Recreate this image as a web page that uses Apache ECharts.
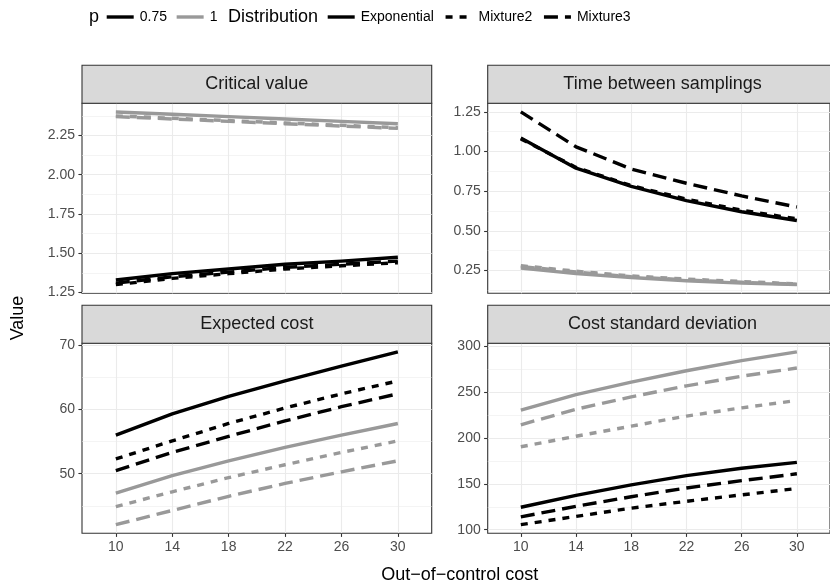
<!DOCTYPE html>
<html><head><meta charset="utf-8">
<script src="https://cdn.jsdelivr.net/npm/echarts@6/dist/echarts.min.js"></script>
<style>html,body{margin:0;padding:0;background:#fff}#chart{width:830px;height:588px}</style>
</head><body><div id="chart"></div>
<script>
// ---------------- data ----------------
const xCategories = [10, 14, 18, 22, 26, 30];
const pLevels = ['0.75', '1'];
const distributions = ['Exponential', 'Mixture2', 'Mixture3'];
const panelTitles = ['Critical value', 'Time between samplings', 'Expected cost', 'Cost standard deviation'];

const critP075Exp  = [1.33, 1.37, 1.40, 1.43, 1.45, 1.475];
const critP075Mix2 = [1.30, 1.34, 1.37, 1.40, 1.42, 1.44];
const critP075Mix3 = [1.31, 1.35, 1.38, 1.41, 1.43, 1.45];
const critP1Exp    = [2.40, 2.385, 2.37, 2.355, 2.34, 2.325];
const critP1Mix2   = [2.375, 2.36, 2.345, 2.33, 2.315, 2.30];
const critP1Mix3   = [2.37, 2.355, 2.34, 2.325, 2.31, 2.295];

const timeP075Exp  = [1.085, 0.895, 0.78, 0.69, 0.62, 0.565];
const timeP075Mix2 = [1.08, 0.90, 0.785, 0.70, 0.63, 0.575];
const timeP075Mix3 = [1.25, 1.03, 0.89, 0.80, 0.72, 0.65];
const timeP1Exp    = [0.265, 0.23, 0.205, 0.185, 0.17, 0.16];
const timeP1Mix2   = [0.28, 0.245, 0.215, 0.195, 0.18, 0.165];
const timeP1Mix3   = [0.275, 0.24, 0.21, 0.19, 0.175, 0.163];

const costP075Exp  = [56.0, 59.3, 62.0, 64.4, 66.7, 68.9];
const costP075Mix2 = [52.3, 55.1, 57.8, 60.2, 62.4, 64.4];
const costP075Mix3 = [50.5, 53.3, 55.8, 58.2, 60.4, 62.4];
const costP1Exp    = [47.0, 49.7, 52.0, 54.1, 56.0, 57.8];
const costP1Mix2   = [44.9, 47.2, 49.4, 51.4, 53.3, 55.1];
const costP1Mix3   = [42.1, 44.3, 46.5, 48.5, 50.3, 52.0];

const sdP075Exp  = [124.5, 137.5, 149, 159, 167, 173.5];
const sdP075Mix2 = [105.5, 114.5, 123.5, 131, 138, 145];
const sdP075Mix3 = [114, 125.5, 136, 145.5, 153.5, 161];
const sdP1Exp    = [230.5, 247.5, 261, 273.5, 284.5, 294];
const sdP1Mix2   = [190.5, 202, 213, 224, 233, 241];
const sdP1Mix3   = [214.5, 231.5, 245, 257, 267.5, 276.5];

const yTicksCritical = [1.25, 1.5, 1.75, 2, 2.25];
const yTicksTime = [0.25, 0.5, 0.75, 1, 1.25];
const yTicksCost = [50, 60, 70];
const yTicksSd = [100, 150, 200, 250, 300];

// ---------------- setup ----------------
const FONT = '"Liberation Sans", Arial, sans-serif';
const panels = [
  { ticks: yTicksCritical, dec: 2, data: { '0.75': [critP075Exp, critP075Mix2, critP075Mix3], '1': [critP1Exp, critP1Mix2, critP1Mix3] } },
  { ticks: yTicksTime, dec: 2, data: { '0.75': [timeP075Exp, timeP075Mix2, timeP075Mix3], '1': [timeP1Exp, timeP1Mix2, timeP1Mix3] } },
  { ticks: yTicksCost, dec: 0, data: { '0.75': [costP075Exp, costP075Mix2, costP075Mix3], '1': [costP1Exp, costP1Mix2, costP1Mix3] } },
  { ticks: yTicksSd, dec: 0, data: { '0.75': [sdP075Exp, sdP075Mix2, sdP075Mix3], '1': [sdP1Exp, sdP1Mix2, sdP1Mix3] } }
];
const PW = 349.7, PH = 190, STRIP = 38;
const pos = [{ left: 82, top: 103.3 }, { left: 487.7, top: 103.3 }, { left: 82, top: 343.3 }, { left: 487.7, top: 343.3 }];
const lineColor = { '0.75': '#000000', '1': '#999999' };
const lineDash = { Exponential: 'solid', Mixture2: [7, 7], Mixture3: [14, 7] };
const LW = 3.4;
const GRID_C = '#EBEBEB';

// discrete x: expand 0.6 of a step each side
const step = xCategories[1] - xCategories[0];
const xMin = xCategories[0] - 0.6 * step, xMax = xCategories[xCategories.length - 1] + 0.6 * step;

const grids = [], xAxes = [], yAxes = [], series = [], graphics = [];
panels.forEach((pn, i) => {
  const all = [];
  pLevels.forEach(p => pn.data[p].forEach(a => all.push(...a)));
  const lo = Math.min(...all), hi = Math.max(...all), r = hi - lo;
  const yMin = lo - 0.05 * r, yMax = hi + 0.05 * r;
  const t = pn.ticks, d = t[1] - t[0];
  const ext = [t[0] - d].concat(t, [t[t.length - 1] + d]);
  const minors = [];
  for (let k = 0; k < ext.length - 1; k++) { const m = (ext[k] + ext[k + 1]) / 2; if (m >= yMin && m <= yMax) minors.push(m); }
  const bottom = i >= 2;
  grids.push({ left: pos[i].left, top: pos[i].top, width: PW, height: PH, show: true, borderColor: '#333333', borderWidth: 1.1, backgroundColor: '#ffffff', containLabel: false });
  xAxes.push({
    type: 'value', gridIndex: i, min: xMin, max: xMax,
    axisLine: { show: false },
    axisTick: { show: bottom, customValues: xCategories, length: 3.6, lineStyle: { color: '#333333', width: 1.1 } },
    axisLabel: { show: bottom, customValues: xCategories, color: '#4D4D4D', fontSize: 14, fontFamily: FONT, margin: 7 },
    splitLine: { show: true, lineStyle: { color: GRID_C, width: 1.1 } }
  });
  yAxes.push({
    type: 'value', gridIndex: i, min: yMin, max: yMax,
    axisLine: { show: false },
    axisTick: { show: true, customValues: t, length: 3.6, lineStyle: { color: '#333333', width: 1.1 } },
    axisLabel: { show: true, customValues: t, color: '#4D4D4D', fontSize: 14, fontFamily: FONT, margin: 7, formatter: v => Number(v).toFixed(pn.dec) },
    splitLine: { show: true, lineStyle: { color: GRID_C, width: 1.1 } }
  });
  pn.minors = minors; pn.yMin = yMin; pn.yMax = yMax;
  // strip
  graphics.push({ type: 'rect', shape: { x: pos[i].left, y: pos[i].top - STRIP, width: PW, height: STRIP }, style: { fill: '#D9D9D9', stroke: '#333333', lineWidth: 1.1 }, z: 10 });
  graphics.push({ type: 'text', x: pos[i].left + PW / 2, y: pos[i].top - STRIP / 2, style: { text: panelTitles[i], fontSize: 18, fontFamily: FONT, fill: '#1A1A1A', align: 'center', verticalAlign: 'middle' }, z: 11 });
});
// minor grid axes
panels.forEach((pn, i) => {
  yAxes.push({
    type: 'value', gridIndex: i, min: pn.yMin, max: pn.yMax,
    axisLine: { show: false }, axisLabel: { show: false },
    axisTick: { show: false, customValues: pn.minors },
    splitLine: { show: true, lineStyle: { color: GRID_C, width: 0.55 } }
  });
});
panels.forEach((pn, i) => {
  pLevels.forEach(p => {
    distributions.forEach((dist, di) => {
      const arr = pn.data[p][di];
      series.push({
        type: 'line', name: panelTitles[i] + ' | ' + p + ' | ' + dist,
        xAxisIndex: i, yAxisIndex: i,
        data: xCategories.map((x, k) => [x, arr[k]]),
        symbol: 'none', silent: true, animation: false,
        lineStyle: { color: lineColor[p], width: LW, type: lineDash[dist], cap: 'butt', join: 'round' },
        z: 3
      });
    });
  });
});
// legend dummy series
pLevels.forEach(p => series.push({ type: 'line', name: p, xAxisIndex: 0, yAxisIndex: 0, data: [], symbol: 'none', lineStyle: { color: lineColor[p], width: LW, type: 'solid', cap: 'butt' }, itemStyle: { color: lineColor[p] } }));
distributions.forEach(dist => series.push({ type: 'line', name: dist, xAxisIndex: 0, yAxisIndex: 0, data: [], symbol: 'none', lineStyle: { color: '#000000', width: LW, type: lineDash[dist], cap: 'butt' }, itemStyle: { color: '#000000' } }));

graphics.push({ type: 'text', x: 89, y: 17, style: { text: 'p', fontSize: 18, fontFamily: FONT, fill: '#000', align: 'left', verticalAlign: 'middle' } });
graphics.push({ type: 'text', x: 228, y: 17, style: { text: 'Distribution', fontSize: 18, fontFamily: FONT, fill: '#000', align: 'left', verticalAlign: 'middle' } });
graphics.push({ type: 'text', x: 82 + (PW + 487.7 - 82) / 2, y: 575, style: { text: 'Out\u2212of\u2212control cost', fontSize: 18, fontFamily: FONT, fill: '#000', align: 'center', verticalAlign: 'middle' } });
graphics.push({ type: 'text', x: 18, y: 318, rotation: Math.PI / 2, style: { text: 'Value', fontSize: 18, fontFamily: FONT, fill: '#000', align: 'center', verticalAlign: 'middle' } });

const legendCommon = {
  top: 10, itemWidth: 27, itemHeight: 14, selectedMode: false, orient: 'horizontal', padding: 0,
  itemStyle: { color: 'rgba(0,0,0,0)', borderWidth: 0, opacity: 0 },
  lineStyle: { width: LW, cap: 'butt' },
  textStyle: { fontSize: 14, fontFamily: FONT, color: '#000', padding: [0, 0, 0, 1] }
};
const chart = echarts.init(document.getElementById('chart'), null, { renderer: 'canvas' });
chart.setOption({
  animation: false,
  backgroundColor: '#ffffff',
  grid: grids, xAxis: xAxes, yAxis: yAxes, series: series,
  legend: [
    Object.assign({}, legendCommon, { left: 105, itemGap: 8, data: pLevels }),
    Object.assign({}, legendCommon, { left: 326, itemGap: 10, data: distributions })
  ],
  graphic: graphics
});
</script></body></html>
